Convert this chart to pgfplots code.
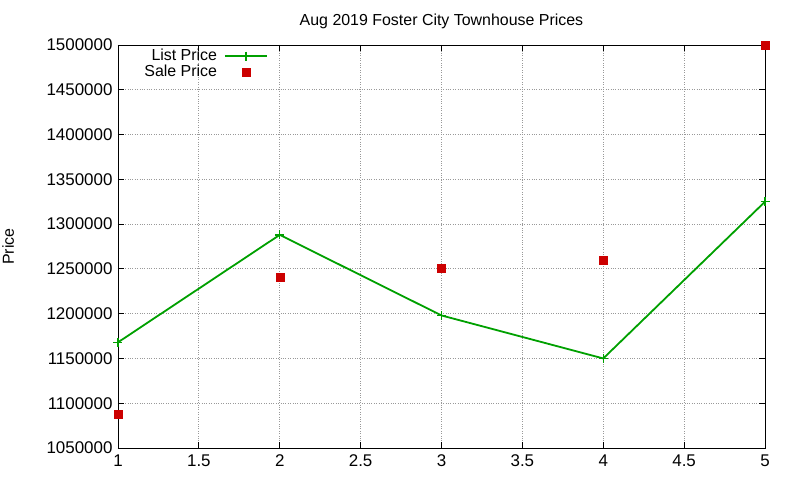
\documentclass[border=0pt]{standalone}
\usepackage{pgfplots}
\pgfplotsset{compat=1.18}
\usepackage{fontspec}
\setmainfont{Liberation Sans}
\definecolor{gpgreen}{RGB}{0,160,0}
\definecolor{gpred}{RGB}{204,0,0}
\pgfplotsset{
	gp line legend/.style={legend image code/.code={\draw[##1] (0bp,0bp) -- (42bp,0bp) plot coordinates {(21bp,0bp)};}},
	gp mark legend/.style={legend image code/.code={\draw[##1] plot coordinates {(21bp,0bp)};}},
}
\begin{document}
\fontsize{16}{18}\selectfont
\begin{tikzpicture}
\begin{axis}[
	scale only axis, width=647bp, height=403bp,
	xmin=1, xmax=5, ymin=1050000, ymax=1500000,
	xtick={1,1.5,...,5}, ytick={1050000,1100000,...,1500000},
	scaled y ticks=false,
	/pgf/number format/.cd, fixed, 1000 sep={}, assume math mode=true,
	/pgfplots/.cd,
	tick align=inside, major tick length=6bp,
	tick style={black, line width=0.9bp},
	axis line style={black, line width=0.9bp},
	grid=major, major grid style={gray!80, dotted, line width=0.8bp},
	title={Aug 2019 Foster City Townhouse Prices},
	title style={font=\fontsize{16}{18}\selectfont, yshift=5bp},
	ylabel={Price},
	ylabel style={font=\fontsize{16}{18}\selectfont, inner sep=0pt, yshift=27bp},
	tick label style={font=\fontsize{17}{19}\selectfont},
	xticklabel style={yshift=-1bp},
	legend plot pos=right,
	legend cell align=right,
	legend style={draw=none, fill=none, at={(0.005,1)}, anchor=north west, xshift=18bp,
		font=\fontsize{16}{16}\selectfont, row sep=-2bp, column sep=5bp},
]
\addplot[gpgreen, line width=1.8bp, mark=+, mark size=4.5bp, mark options={line width=1.4bp}, gp line legend] coordinates {
	(1,1168000) (2,1288000) (3,1198000) (4,1150000) (5,1325000)
};
\addlegendentry{List Price}
\addplot[only marks, mark=square*, gpred, mark size=4bp, gp mark legend] coordinates {
	(1,1088000) (2,1241000) (3,1251000) (4,1260000) (5,1500000)
};
\addlegendentry{Sale Price}
\end{axis}
\useasboundingbox ([shift={(-118bp,-32bp)}]current axis.south west) rectangle ([shift={(35bp,45bp)}]current axis.north east);
\end{tikzpicture}
\end{document}
